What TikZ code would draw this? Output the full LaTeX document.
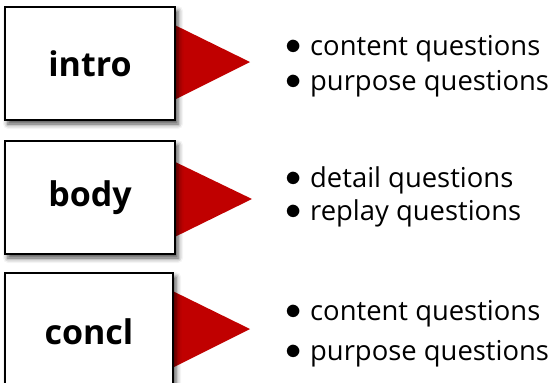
\documentclass[tikz,border=0pt]{standalone}
\usepackage{fontspec}
\usepackage{graphicx}
\setmainfont{Open Sans}
\usetikzlibrary{shadows.blur}
\definecolor{arrowred}{RGB}{192,0,0}
\newcommand{\listdot}{\makebox[26pt][l]{\hspace{1.5pt}\raisebox{0.5pt}{\scalebox{1.3}{$\bullet$}}}}
\tikzset{
  part/.style={draw=black, line width=1.5pt, fill=white,
    blur shadow={shadow xshift=3pt, shadow yshift=-4pt, shadow blur radius=5pt, shadow opacity=70}},
  parttext/.style={font=\fontsize{34}{36}\selectfont\bfseries},
  pointer/.style={fill=arrowred, draw=none},
  item/.style={anchor=base west, inner sep=0pt, font=\fontsize{27.4}{30}\selectfont}
}
\begin{document}
\begin{tikzpicture}[x=1pt, y=-1pt]
\useasboundingbox (0,0) rectangle (550,383);
% pointers behind the boxes
\fill[pointer] (140,8) -- (250,62) -- (140,117) -- cycle;
\fill[pointer] (140,145) -- (252,199) -- (140,254) -- cycle;
\fill[pointer] (140,275) -- (250,329) -- (140,384) -- cycle;
% section boxes
\draw[part] (5,7) rectangle (175,120);
\draw[part] (5,141) rectangle (175,254);
\draw[part] (5,273) rectangle (173,395);
\node[parttext] (intro) at (90,63.5) {intro};
\node[parttext] (body) at (90,197.5) {body};
\node[parttext] (concl) at (89,332) {concl};
% question lists
\node[item] (i1) at (284,55) {\listdot content questions};
\node[item] (i2) at (284,90) {\listdot purpose questions};
\node[item] (b1) at (284,187) {\listdot detail questions};
\node[item] (b2) at (284,220) {\listdot replay questions};
\node[item] (c1) at (284,320) {\listdot content questions};
\node[item] (c2) at (284,360) {\listdot purpose questions};
\end{tikzpicture}
\end{document}
